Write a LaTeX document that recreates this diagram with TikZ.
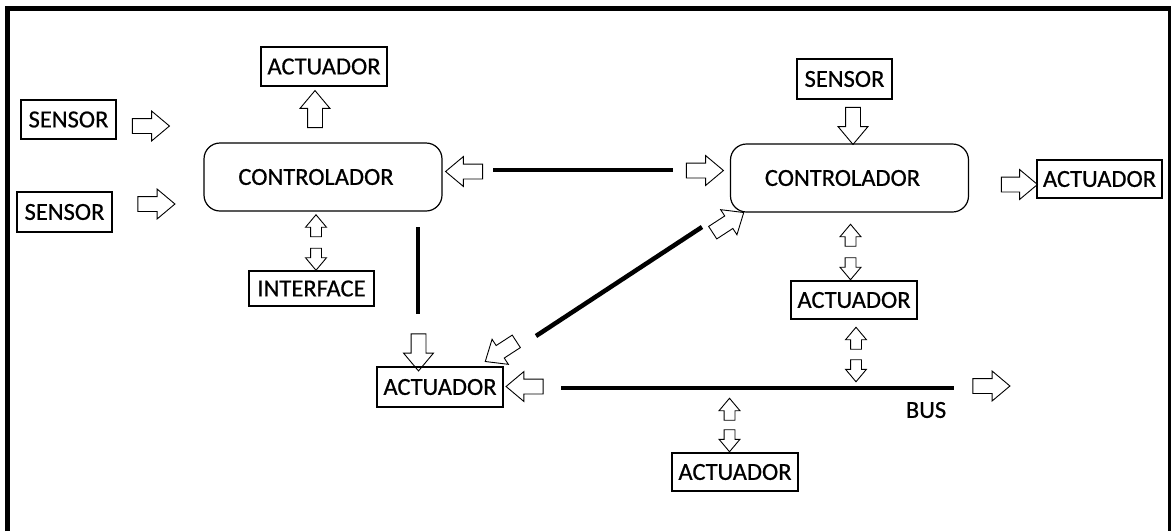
\documentclass[tikz,border=0pt]{standalone}
\usepackage{fontspec}
\setmainfont{Carlito}[FakeBold=0.6]
\usetikzlibrary{shapes.arrows}
\begin{document}
\begin{tikzpicture}[x=1pt,y=-1pt,
  txt/.style={font=\fontsize{24.5}{28}\selectfont},
  box/.style={draw, line width=1.2pt, inner sep=0pt, txt},
  ctrlbox/.style={draw, line width=1.2pt, rounded corners=16pt,
    minimum width=238pt, minimum height=68pt, inner sep=0pt},
  bigarrow/.style={single arrow, draw, line width=0.9pt, inner xsep=0pt,
    inner ysep=7pt, minimum height=37pt, single arrow head extend=7.5pt,
    single arrow tip angle=80},
  smallarrow/.style={single arrow, draw, line width=0.9pt, inner xsep=0pt,
    inner ysep=5pt, minimum height=22pt, single arrow head extend=5pt,
    single arrow tip angle=80},
  link/.style={line width=4.5pt}]
\useasboundingbox (0,0) rectangle (1171,531);

% outer frame
\draw[line width=5pt] (7.5,531) -- (7.5,8.5) -- (1171,8.5);
\draw[line width=3pt] (1169.5,8.5) -- (1169.5,531);

% left controller and its devices
\node[box, minimum width=95pt, minimum height=39pt] (sensorA) at (68.5,119.5) {SENSOR};
\node[box, minimum width=95pt, minimum height=40pt] (sensorB) at (64.5,212) {SENSOR};
\node[box, minimum width=126pt, minimum height=39pt] (actTop) at (324,66.5) {ACTUADOR};
\node[ctrlbox, label={[txt, xshift=-7pt]center:CONTROLADOR}] (ctrlL) at (323,177) {};
\node[box, minimum width=125pt, minimum height=35pt] (iface) at (311.5,288.5) {INTERFACE};

\node[bigarrow] (aSA) at (146.5,126) {};
\node[bigarrow] (aSB) at (152,204) {};
\node[bigarrow, rotate=90] (aTop) at (315,113.5) {};
\node[smallarrow, rotate=90] (aIfUp) at (316,229) {};
\node[smallarrow, rotate=-90] (aIfDn) at (316,256) {};

% right controller and its devices
\node[ctrlbox, label={[txt, xshift=-7pt]center:CONTROLADOR}] (ctrlR) at (849.5,178) {};
\node[box, minimum width=95pt, minimum height=40pt] (sensorR) at (844.5,79) {SENSOR};
\node[box, minimum width=125pt, minimum height=38pt] (actR) at (1099.5,179) {ACTUADOR};
\node[box, minimum width=126pt, minimum height=38pt] (actMid) at (854,300) {ACTUADOR};

\node[bigarrow, rotate=-90] (aSR) at (853,121.5) {};
\node[bigarrow, minimum height=36pt] (aR) at (1015,184.5) {};
\node[smallarrow, rotate=90] (aMidUp) at (850.5,238.5) {};
\node[smallarrow, rotate=-90] (aMidDn) at (850.5,265.5) {};
\node[smallarrow, rotate=90] (aBusUp) at (856,341.5) {};
\node[smallarrow, rotate=-90] (aBusDn) at (856,367.5) {};

% link between the two controllers
\node[bigarrow, rotate=180] (aLinkL) at (468.5,171.5) {};
\node[bigarrow] (aLinkR) at (700.5,170.5) {};
\coordinate (linkA) at (493,170);
\coordinate (linkB) at (673,170);
\draw[link] (linkA) -- (linkB);

% actuator on the bus
\node[box, minimum width=126pt, minimum height=40pt] (actBL) at (440,387) {ACTUADOR};
\node[bigarrow, rotate=-90] (aDown) at (418.5,348) {};
\coordinate (vA) at (418,227);
\coordinate (vB) at (418,314);
\draw[link] (vA) -- (vB);

\node[bigarrow, rotate=213] (aDiagL) at (504.5,349) {};
\node[bigarrow, rotate=33] (aDiagR) at (724.5,225) {};
\coordinate (dA) at (536,336);
\coordinate (dB) at (702,227);
\draw[link] (dA) -- (dB);

% bus line
\node[bigarrow, rotate=180] (aBusL) at (529,386.5) {};
\node[bigarrow] (aBusR) at (987,386) {};
\coordinate (busA) at (561,388);
\coordinate (busB) at (954,388);
\draw[link] (busA) -- (busB);
\node[txt, inner sep=0pt] (busLbl) at (926,410) {BUS};

% actuator below the bus
\node[smallarrow, rotate=90] (aBotUp) at (729.5,412.5) {};
\node[smallarrow, rotate=-90] (aBotDn) at (729.5,437.5) {};
\node[box, minimum width=126pt, minimum height=38pt] (actBot) at (735,472) {ACTUADOR};
\end{tikzpicture}
\end{document}
